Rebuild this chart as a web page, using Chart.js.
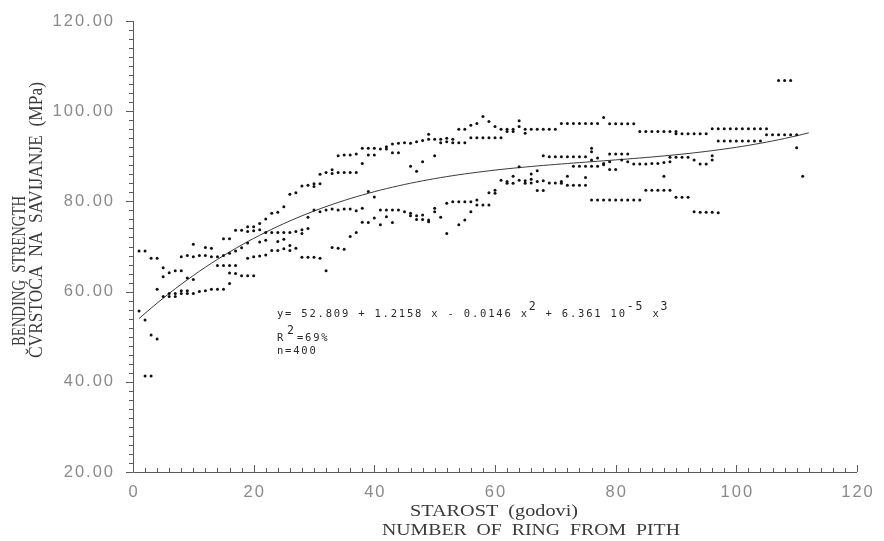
<!DOCTYPE html>
<html>
<head>
<meta charset="utf-8">
<title>Bending strength by ring number</title>
<script src="https://cdn.jsdelivr.net/npm/chart.js@4/dist/chart.umd.min.js"></script>
<style>
    html, body { margin: 0; padding: 0; background: #fff; }
    #wrap { width: 884px; height: 541px; }
</style>
</head>
<body>
<div id="wrap"><canvas id="strengthChart" width="884" height="541"></canvas></div>
<script>

/* DATA : ring number from pith (age) and bending strength in MPa */
const ages1 = [1,1, 2,2,2, 3,3,3, 4,4,4, 5,5,5, 6,6,6, 7,7,7, 8,8,8,8, 9,9,9,9, 10,10,10,10, 11,11, 12,12,12, 13,13,13, 14,14,14, 15,15,15,15, 16,16,16,16,16, 17,17,17,17, 18,18,18, 19,19,19,19,19];
const mpa1 = [69.0,55.7, 69.0,53.7,41.3, 67.4,50.4,41.3, 67.4,60.5,49.5, 65.3,63.3,58.9, 64.2,59.6,58.9, 64.6,59.6,58.9, 64.6,67.7,60.2,59.6, 68.0,63.0,60.2,59.6, 70.5,67.7,62.7,59.6, 68.0,60.0, 69.8,68.0,60.2, 69.6,67.7,60.5, 67.7,65.8,60.5, 71.7,68.0,65.8,60.5, 71.7,68.5,65.8,64.1,61.8, 73.6,69.0,65.8,64.0, 73.6,69.7,63.5, 74.4,73.3,70.8,67.4,63.5];

const ages2 = [20,20,20,20, 21,21,21,21, 22,22,22,22, 23,23,23, 24,24,24,24, 25,25,25,25, 26,26,26,26, 27,27,27, 28,28,28,28, 29,29,29,29, 30,30,30,30, 31,31,31,31, 32,32,32, 33,33,33,33, 34,34,34,34, 35,35,35,35, 36,36,36,36, 37,37,37,37, 38,38,38,38];
const mpa2 = [74.4,73.5,67.7,63.5, 75.1,73.7,71.0,67.9, 76.1,73.1,71.4,68.1, 77.4,73.1,69.1, 77.6,73.1,71.1,69.1, 78.8,73.1,71.6,69.5, 81.6,73.1,70.2,69.1, 81.9,73.3,69.6, 83.4,73.7,72.9,67.6, 83.6,76.5,74.0,67.6, 83.9,83.3,78.1,67.6, 86.0,83.9,77.7,67.4, 86.4,78.1,64.6, 87.0,86.2,78.3,69.8, 90.1,86.4,78.1,69.6, 90.3,86.4,78.3,69.4, 90.3,86.4,78.3,72.2, 90.5,86.4,77.9,73.1, 91.8,88.4,78.5,75.4];

const ages3 = [39,39,39,39, 40,40,40,40, 41,41,41, 42,42,42,42, 43,43,43,43, 44,44,44, 45,45, 46,46,46,46, 47,47,47,47, 48,48,48,48, 49,49,49,49, 50,50,50,50, 51,51,51, 52,52,52,52, 53,53,53, 54,54,54,54, 55,55,55,55, 56,56,56,56, 57,57,57,57, 58,58,58];
const mpa3 = [91.8,90.3,82.2,75.3, 91.8,90.3,81.0,76.3, 91.6,78.1,74.8, 92.1,91.6,78.1,76.6, 92.7,90.8,78.1,75.3, 92.9,90.8,78.1, 93.0,77.7, 92.9,87.8,77.4,76.8, 93.2,86.7,76.8,76.0, 93.5,88.8,77.0,76.0, 94.9,93.8,75.9,75.5, 93.8,90.1,78.5,77.7, 93.8,93.0,76.5, 94.0,93.2,79.6,72.9, 93.8,93.0,79.9, 96.0,93.0,79.9,74.8, 96.0,93.0,79.9,75.9, 96.9,94.1,79.9,77.7, 97.3,94.1,80.3,79.2, 98.8,94.1,79.2];

const ages4 = [59,59,59,59, 60,60,60,60, 61,61,61, 62,62,62,62, 63,63,63,63, 64,64,64,64, 65,65,65,65, 66,66,66,66, 67,67,67,67, 68,68,68,68, 69,69,69, 70,70,70, 71,71,71,71, 72,72,72,72, 73,73,73,73, 74,74,74,74, 75,75,75,75,75, 76,76,76,76,76,76, 77,77,77,77];
const mpa4 = [97.7,94.1,81.9,79.2, 96.6,94.1,82.5,81.8, 96.0,94.1,84.7, 96.0,95.5,84.4,84.0, 96.0,95.5,85.6,84.0, 97.9,96.6,87.7,84.7, 96.0,95.1,84.6,84.0, 96.0,86.1,84.9,84.1, 96.0,86.8,84.4,82.4, 96.0,90.1,84.6,82.4, 96.0,89.9,84.1, 96.0,89.9,84.1, 97.3,89.9,84.4,84.0, 97.3,89.9,85.6,83.6, 97.3,89.9,87.8,83.6, 97.3,89.9,87.8,83.6, 97.3,89.9,87.8,85.3,83.6, 97.3,91.8,91.0,89.2,87.8,80.3, 97.3,89.6,87.8,80.3];

const ages5 = [78,78,78,78, 79,79,79,79,79, 80,80,80,80, 81,81,81,81, 82,82,82,82, 83,83,83, 84,84,84, 85,85,85, 86,86,86, 87,87,87, 88,88,88,88, 89,89,89,89, 90,90,90,90, 91,91,91, 92,92,92, 93,93,93, 94,94,94, 95,95,95, 96,96,96,96];
const mpa5 = [98.6,88.4,88.1,80.3, 97.2,90.5,88.8,87.1,80.3, 97.2,90.5,87.1,80.3, 97.2,90.5,89.2,80.3, 97.2,90.5,88.8,80.3, 97.2,88.3,80.3, 95.5,88.3,80.3, 95.5,88.3,82.5, 95.5,88.4,82.5, 95.5,88.4,82.5, 95.5,88.6,85.6,82.5, 95.5,89.8,88.8,82.5, 95.5,95.0,89.8,80.9, 95.0,89.8,80.9, 95.0,89.8,80.9, 95.0,89.2,77.7, 95.0,88.3,77.6, 95.0,88.3,77.6, 96.1,90.1,89.2,77.6];

const ages6 = [97,97,97, 98,98, 99,99, 100,100, 101,101, 102,102, 103,103, 104,104, 105,105, 106, 107,107, 108,108, 109,109, 110,110, 111];
const mpa6 = [96.1,93.4,77.5, 96.1,93.4, 96.1,93.4, 96.1,93.4, 96.1,93.4, 96.1,93.4, 96.1,93.4, 96.1,93.4, 96.1,94.8, 94.8, 106.8,94.8, 106.8,94.8, 106.8,94.8, 94.8,91.9, 85.6];

/* cubic fit printed on the plot: y = b0 + b1 x + b2 x^2 + b3 x^3 */
const fitCoef = [52.809, 1.2158, -0.0146, 6.361e-5];
const fitFrom = 1;
const fitTo = 112;

const xTicks = [0, 20, 40, 60, 80, 100, 120];
const yTicks = [20, 40, 60, 80, 100, 120];
const minorStep = 2;

const groups = [
    [ages1, mpa1], [ages2, mpa2], [ages3, mpa3],
    [ages4, mpa4], [ages5, mpa5], [ages6, mpa6]
];

const points = [];
groups.forEach(([ages, vals]) => {
    ages.forEach((a, i) => points.push({ x: a, y: vals[i] }));
});

const fitLine = [];
for (let a = fitFrom; a <= fitTo; a++) {
    const y = fitCoef[0] + fitCoef[1] * a + fitCoef[2] * a * a + fitCoef[3] * a * a * a;
    fitLine.push({ x: a, y });
}

/* AXES, TICKS AND TEXT (plotter style, drawn by hand on the scales) */
const plotterAxes = {
    id: "plotterAxes",
    afterDraw(chart) {
        const { ctx, chartArea: a, scales: { x, y } } = chart;

        ctx.save();
        ctx.strokeStyle = "#5a5a5a";
        ctx.lineWidth = 1;

        ctx.beginPath();
        ctx.moveTo(a.left + 0.5, a.top);
        ctx.lineTo(a.left + 0.5, a.bottom + 0.5);
        ctx.lineTo(a.right, a.bottom + 0.5);

        for (let v = y.min; v <= y.max; v += minorStep) {
            const py = Math.round(y.getPixelForValue(v)) + 0.5;
            const len = v % 20 === 0 ? 7 : 4;
            ctx.moveTo(a.left - len, py);
            ctx.lineTo(a.left, py);
        }

        for (let v = x.min; v <= x.max; v += minorStep) {
            const px = Math.round(x.getPixelForValue(v)) + 0.5;
            const len = v % 20 === 0 ? 7 : 4;
            ctx.moveTo(px, a.bottom);
            ctx.lineTo(px, a.bottom - len);
        }
        ctx.stroke();

        /* tick labels */
        ctx.fillStyle = "#8a8a8a";
        ctx.font = "16.5px 'Liberation Sans', Arial, sans-serif";
        ctx.letterSpacing = "2px";
        ctx.textBaseline = "middle";
        ctx.textAlign = "right";
        yTicks.forEach(v => {
            ctx.fillText(v.toFixed(2), a.left - 18, y.getPixelForValue(v));
        });

        ctx.textAlign = "center";
        xTicks.forEach(v => {
            ctx.fillText(String(v), x.getPixelForValue(v) + 1, a.bottom + 20);
        });

        /* axis titles */
        ctx.fillStyle = "#3a3a3a";
        ctx.letterSpacing = "0px";
        ctx.font = "17px 'Liberation Serif', 'DejaVu Serif', serif";

        const fitText = (text, left, mid, width) => {
            ctx.save();
            const w = ctx.measureText(text).width;
            ctx.translate(left, mid);
            ctx.scale(width / w, 1);
            ctx.textAlign = "left";
            ctx.textBaseline = "middle";
            ctx.fillText(text, 0, 0);
            ctx.restore();
        };

        fitText("STAROST  (godovi)", 410, 512, 168);
        fitText("NUMBER  OF  RING  FROM  PITH", 382, 531, 298);

        ctx.font = "19.5px 'Liberation Serif', 'DejaVu Serif', serif";
        const fitUp = (text, cx, bottom, len) => {
            ctx.save();
            const w = ctx.measureText(text).width;
            ctx.translate(cx, bottom);
            ctx.rotate(-Math.PI / 2);
            ctx.scale(len / w, 1);
            ctx.textAlign = "left";
            ctx.textBaseline = "middle";
            ctx.fillText(text, 0, 0);
            ctx.restore();
        };

        fitUp("BENDING  STRENGTH", 20, 346, 150);
        fitUp("ČVRSTOĆA  NA  SAVIJANJE  (MPa)", 37, 358, 276);

        /* regression note */
        ctx.fillStyle = "#2a2a2a";
        ctx.textAlign = "left";
        ctx.textBaseline = "alphabetic";
        ctx.letterSpacing = "1.8px";

        const runs = [
            ["y= 52.809 + 1.2158 x - 0.0146 x", 0],
            ["2", 1],
            [" + 6.361 10", 0],
            ["-5", 1],
            [" x", 0],
            ["3", 1]
        ];
        let cx = 277;
        runs.forEach(([t, sup]) => {
            ctx.font = sup
                ? "11.5px 'DejaVu Sans Mono', 'Liberation Mono', monospace"
                : "10.5px 'DejaVu Sans Mono', 'Liberation Mono', monospace";
            ctx.fillText(t, cx, sup ? 310 : 317);
            cx += ctx.measureText(t).width;
        });

        ctx.font = "10.5px 'DejaVu Sans Mono', 'Liberation Mono', monospace";
        ctx.fillText("R", 277, 341);
        ctx.font = "11.5px 'DejaVu Sans Mono', 'Liberation Mono', monospace";
        ctx.fillText("2", 287, 334);
        ctx.font = "10.5px 'DejaVu Sans Mono', 'Liberation Mono', monospace";
        ctx.fillText("=69%", 297, 341);
        ctx.fillText("n=400", 277, 354);

        ctx.restore();
    }
};

/* CHART */
const chart = new Chart(document.getElementById("strengthChart"), {
    type: "scatter",
    data: {
        datasets: [
            {
                type: "scatter",
                data: points,
                backgroundColor: "#111",
                borderColor: "#111",
                borderWidth: 0,
                pointRadius: 1.5,
                pointHoverRadius: 1.5
            },
            {
                type: "line",
                data: fitLine,
                borderColor: "#3a3a3a",
                borderWidth: 1,
                pointRadius: 0,
                tension: 0,
                fill: false
            }
        ]
    },
    options: {
        responsive: false,
        animation: false,
        devicePixelRatio: 1,
        layout: {
            padding: { left: 133, right: 27, top: 21, bottom: 69 }
        },
        scales: {
            x: { type: "linear", min: 0, max: 120, display: false },
            y: { type: "linear", min: 20, max: 120, display: false }
        },
        plugins: {
            legend: { display: false },
            tooltip: { enabled: false }
        }
    },
    plugins: [plotterAxes]
});

</script>
</body>
</html>
